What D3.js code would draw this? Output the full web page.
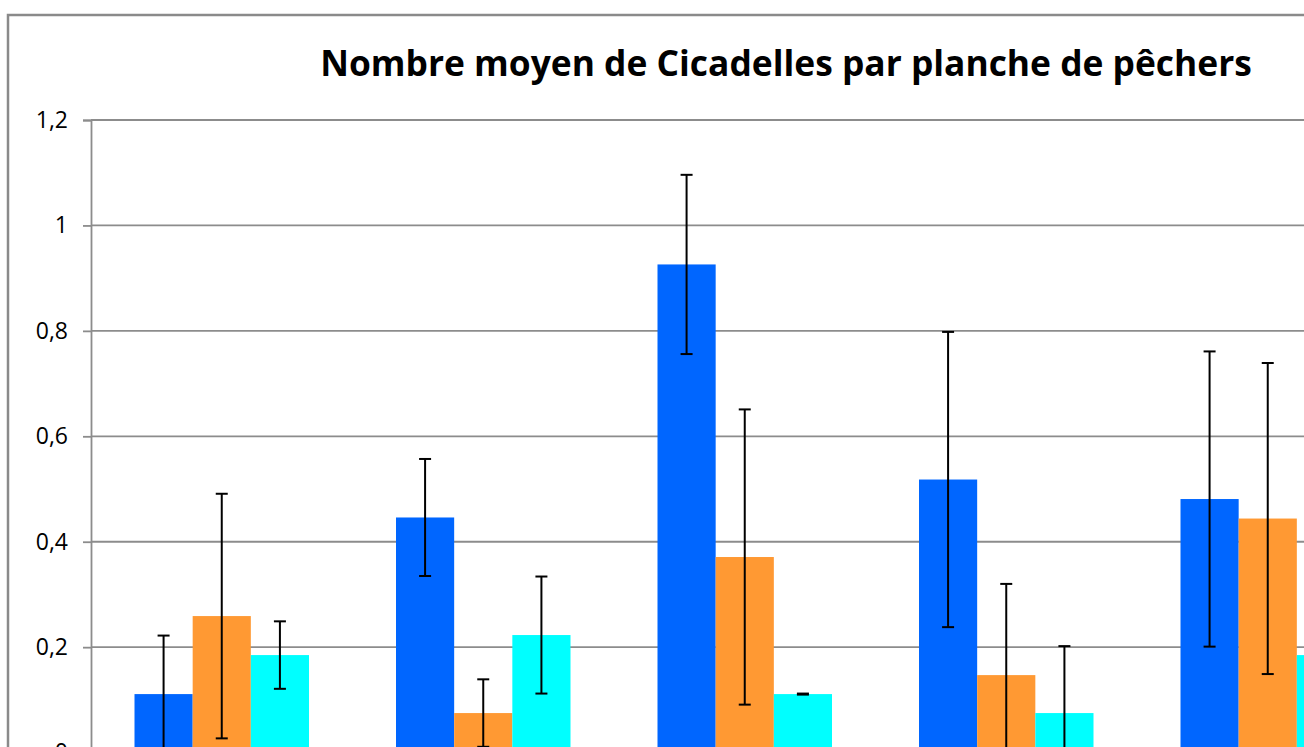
<!DOCTYPE html>
<html><head><meta charset="utf-8">
<script src="https://cdn.jsdelivr.net/npm/d3@7"></script>
<style>html,body{margin:0;padding:0;background:#fff;overflow:hidden}</style>
</head><body>
<svg id="c" width="1304" height="747"></svg>
<script>
const categories = ["Date 1","Date 2","Date 3","Date 4","Date 5"];
const seriesNames = ["Série 1","Série 2","Série 3"];
const seriesColors = ["#0066FF","#FF9933","#00FFFF"];
const values1 = [0.111,0.446,0.926,0.518,0.481];
const values2 = [0.259,0.075,0.371,0.147,0.444];
const values3 = [0.185,0.223,0.111,0.075,0.185];
const errors1 = [0.111,0.111,0.170,0.280,0.280];
const errors2 = [0.232,0.064,0.280,0.173,0.295];
const errors3 = [0.064,0.111,0.001,0.127,0.064];
const yTicks = [0,0.2,0.4,0.6,0.8,1,1.2];
const title = "Nombre moyen de Cicadelles par planche de pêchers";

const svg = d3.select("#c");
const values = [values1, values2, values3];
const errors = [errors1, errors2, errors3];

// outer chart border (extends beyond the visible window)
svg.append("rect").attr("x",8).attr("y",15).attr("width",1400).attr("height",800)
  .attr("fill","none").attr("stroke","#8a8a8a").attr("stroke-width",2.5);

const x0 = 91, yTop = 120, yZero = 752.6;
const y = d3.scaleLinear().domain([0,1.2]).range([yZero, yTop]);
const x = d3.scaleBand().domain(categories).range([x0, x0 + 261.5*categories.length]).padding(0);
const xs = d3.scaleBand().domain(seriesNames).range([43.5, x.bandwidth()-43.5]).padding(0);

const fmt = d => String(d).replace(".", ",");

// gridlines
svg.append("g").selectAll("line").data(yTicks).join("line")
  .attr("x1", x0).attr("x2", 1400)
  .attr("y1", d=>y(d)).attr("y2", d=>y(d))
  .attr("stroke","#8c8c8c").attr("stroke-width",1.8);

// y axis
const yAxis = d3.axisLeft(y).tickValues(yTicks).tickFormat(fmt).tickSize(8).tickPadding(15);
const ga = svg.append("g").attr("transform",`translate(${x0},0)`).call(yAxis);
ga.select(".domain").attr("stroke","#8c8c8c").attr("stroke-width",1.8);
ga.selectAll(".tick line").attr("stroke","#8c8c8c").attr("stroke-width",1.8);
ga.selectAll(".tick text").attr("font-family","'Open Sans', sans-serif").attr("font-size",23).attr("fill","#000");

// bars
const data = [];
categories.forEach((c,i)=>seriesNames.forEach((s,j)=>data.push({c,s,j,v:values[j][i],e:errors[j][i]})));
svg.append("g").selectAll("rect").data(data).join("rect")
  .attr("x", d=>x(d.c)+xs(d.s)).attr("width", xs.bandwidth())
  .attr("y", d=>y(d.v)).attr("height", d=>y(0)-y(d.v))
  .attr("fill", d=>seriesColors[d.j]);

// error bars
const eg = svg.append("g").attr("stroke","#000").attr("stroke-width",2);
data.forEach(d=>{
  const cx = x(d.c)+xs(d.s)+xs.bandwidth()/2;
  const hi = y(d.v+d.e), lo = y(d.v-d.e);
  eg.append("line").attr("x1",cx).attr("x2",cx).attr("y1",hi).attr("y2",lo);
  eg.append("line").attr("x1",cx-6).attr("x2",cx+6).attr("y1",hi).attr("y2",hi);
  eg.append("line").attr("x1",cx-6).attr("x2",cx+6).attr("y1",lo).attr("y2",lo);
});

// title
const t = svg.append("text").attr("x",786).attr("y",76).attr("text-anchor","middle")
  .attr("font-family","'Open Sans', sans-serif").attr("font-weight","bold").attr("font-size",36)
  .attr("fill","#000").text(title);
const w = t.node().getComputedTextLength();
t.attr("font-size", 36*932/w);
</script>
</body></html>
